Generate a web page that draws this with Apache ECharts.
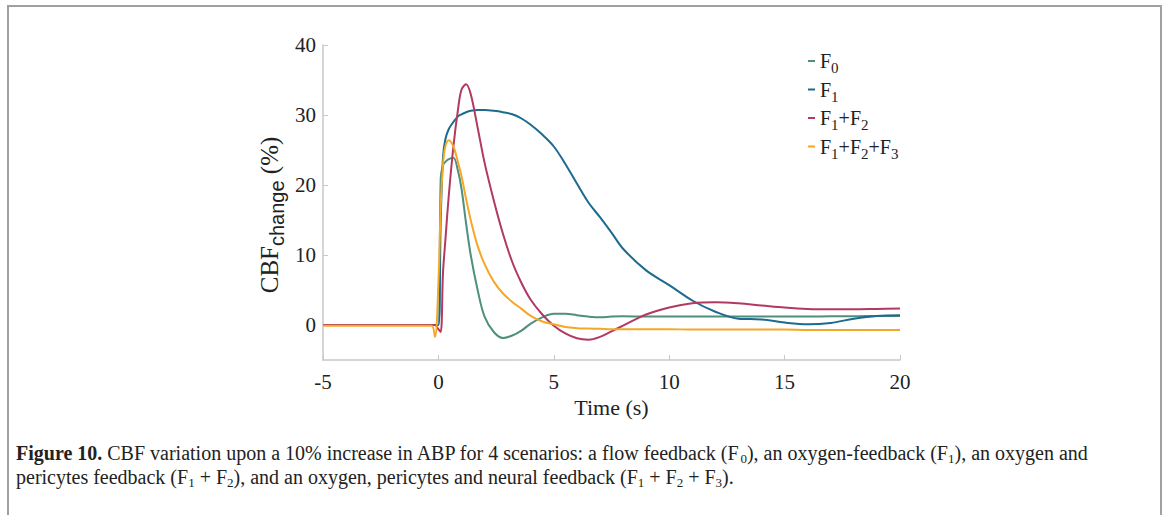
<!DOCTYPE html>
<html>
<head>
<meta charset="utf-8">
<script src="https://cdn.jsdelivr.net/npm/echarts@6/dist/echarts.min.js"></script>
<style>
  html, body { margin: 0; padding: 0; background: #fff; }
  #frame {
    position: absolute; left: 7px; top: 5px; width: 1155px; height: 530px;
    border: 2px solid #a0a0a0; border-bottom: none; box-sizing: border-box;
  }
  #chart { position: absolute; left: 0; top: 0; width: 1170px; height: 515px; }
</style>
</head>
<body>
<div id="frame"></div>
<div id="chart"></div>
<script>
// time axis (s)
const time = [-5, -4, -3, -2, -1, -0.3, -0.15, 0, 0.1, 0.2, 0.3, 0.45, 0.65, 0.85, 1.0, 1.2, 1.4, 1.7, 2.0, 2.4, 2.8, 3.2, 3.6, 4.0, 4.5, 5.0, 5.5, 6.0, 6.5, 7.0, 7.5, 8.0, 9.0, 10.0, 11.0, 12.0, 13.0, 14.0, 15.0, 16.0, 17.0, 18.0, 19.0, 20.0];
// CBF change (%) for each scenario
const f0 = [0, 0, 0, 0, 0, 0, 0, 0, 21, 22.8, 23.3, 23.7, 23.9, 22, 19.5, 14.5, 10, 5, 1.2, -1.0, -1.85, -1.5, -0.8, 0.2, 1.1, 1.6, 1.6, 1.4, 1.2, 1.1, 1.2, 1.25, 1.2, 1.2, 1.2, 1.2, 1.2, 1.2, 1.2, 1.2, 1.25, 1.25, 1.3, 1.3];
const f1 = [0, 0, 0, 0, 0, 0, 0, 0, 15, 24, 26.5, 28, 29, 29.8, 30.1, 30.4, 30.6, 30.7, 30.7, 30.6, 30.4, 30.1, 29.5, 28.6, 27.2, 25.5, 23, 20.2, 17.5, 15.4, 13.2, 10.9, 7.8, 5.7, 3.5, 1.9, 0.9, 0.8, 0.35, 0.1, 0.3, 0.9, 1.3, 1.4];
const f1f2 = [0, 0, 0, 0, 0, 0, 0, -0.6, -1.0, 7.5, 12, 18.5, 25.5, 30.8, 33.6, 34.4, 33, 28.2, 23.2, 17.8, 13, 9.0, 6.0, 3.6, 1.5, -0.1, -1.2, -1.9, -2.1, -1.7, -0.9, -0.1, 1.5, 2.5, 3.1, 3.25, 3.1, 2.8, 2.5, 2.3, 2.25, 2.25, 2.3, 2.35];
const f1f2f3 = [-0.1, -0.1, -0.1, -0.1, -0.1, -0.1, -1.7, 6, 17, 23, 25.5, 26.4, 25.5, 23.2, 21.3, 18, 15, 11.3, 8.7, 6.2, 4.5, 3.3, 2.3, 1.3, 0.5, 0.1, -0.3, -0.45, -0.5, -0.55, -0.6, -0.6, -0.6, -0.6, -0.65, -0.65, -0.65, -0.65, -0.65, -0.7, -0.7, -0.7, -0.7, -0.7];
const yTicks = [0, 10, 20, 30, 40];

const names = ['F0', 'F1', 'F1+F2', 'F1+F2+F3'];
const colors = ['#4f8f7d', '#1d6a8f', '#b2395f', '#f5a726'];
const values = [f0, f1, f1f2, f1f2f3];

const serif = '"Liberation Serif", "Times New Roman", serif';

function pairs(ys) {
    return time.map(function (t, i) { return [t, ys[i]]; });
}

let myChart = echarts.init(document.getElementById('chart'), null, {renderer: 'svg'});
myChart.setOption({
    animation: false,
    grid: {
        left: 323,
        right: 270,
        top: 45,
        bottom: 155
    },
    legend: {
        data: names,
        orient: 'vertical',
        left: 803,
        top: 46,
        itemGap: 4,
        icon: 'rect',
        itemWidth: 7,
        itemHeight: 2,
        formatter: function (name) {
            return name.replace(/F(\d)/g, '{m|F}{s|$1}');
        },
        textStyle: {
            fontFamily: serif,
            fontSize: 20,
            color: '#222',
            rich: {
                m: {fontFamily: serif, fontSize: 20, color: '#222'},
                s: {fontFamily: serif, fontSize: 15, color: '#222', padding: [14, 0, 0, 0]}
            }
        }
    },
    xAxis: {
        type: 'value',
        min: -5,
        max: 20,
        interval: 5,
        name: 'Time (s)',
        nameLocation: 'middle',
        nameGap: 34,
        nameTextStyle: {fontFamily: serif, fontSize: 22, color: '#222'},
        axisLine: {onZero: false, lineStyle: {color: '#c8c8c8', width: 1.5}},
        axisTick: {inside: true, length: 5, lineStyle: {color: '#c8c8c8'}},
        axisLabel: {fontFamily: serif, fontSize: 21, color: '#222', margin: 11},
        splitLine: {show: false}
    },
    yAxis: {
        type: 'value',
        min: -5,
        max: 40,
        name: '{m|CBF}{s|change}{m| (%)}',
        nameLocation: 'middle',
        nameRotate: 90,
        nameGap: 36,
        nameTextStyle: {
            padding: [0, 25, 0, 0],
            rich: {
                m: {fontFamily: serif, fontSize: 25, color: '#222'},
                s: {fontFamily: '"Liberation Sans", sans-serif', fontSize: 20, color: '#222', padding: [16, 0, 0, 0]}
            }
        },
        axisLine: {show: true, onZero: false, lineStyle: {color: '#c8c8c8', width: 1.5}},
        axisTick: {show: true, inside: true, length: 5, customValues: yTicks, lineStyle: {color: '#c8c8c8'}},
        axisLabel: {fontFamily: serif, fontSize: 21, color: '#222', margin: 7, customValues: yTicks},
        splitLine: {show: false}
    },
    series: names.map(function (n, i) {
        return {
            name: n,
            type: 'line',
            data: pairs(values[i]),
            showSymbol: false,
            smooth: 0.35,
            color: colors[i],
            lineStyle: {width: 2, color: colors[i]}
        };
    }),
    graphic: [
        {
            type: 'text',
            left: 16,
            top: 443,
            style: {
                text: '{b|Figure 10.} CBF variation upon a 10% increase in ABP for 4 scenarios: a flow feedback (F{s|0}), an oxygen-feedback (F{s|1}), an oxygen and',
                fontFamily: serif,
                fontSize: 20,
                fill: '#222',
                rich: {
                    b: {fontFamily: serif, fontSize: 20, fontWeight: 'bold', fill: '#222'},
                    s: {fontFamily: serif, fontSize: 13, fill: '#222', padding: [10, 0, 0, 0]}
                }
            }
        },
        {
            type: 'text',
            left: 16,
            top: 467,
            style: {
                text: 'pericytes feedback (F{s|1} + F{s|2}), and an oxygen, pericytes and neural feedback (F{s|1} + F{s|2} + F{s|3}).',
                fontFamily: serif,
                fontSize: 20,
                fill: '#222',
                rich: {
                    s: {fontFamily: serif, fontSize: 13, fill: '#222', padding: [10, 0, 0, 0]}
                }
            }
        }
    ]
});
</script>
</body>
</html>
